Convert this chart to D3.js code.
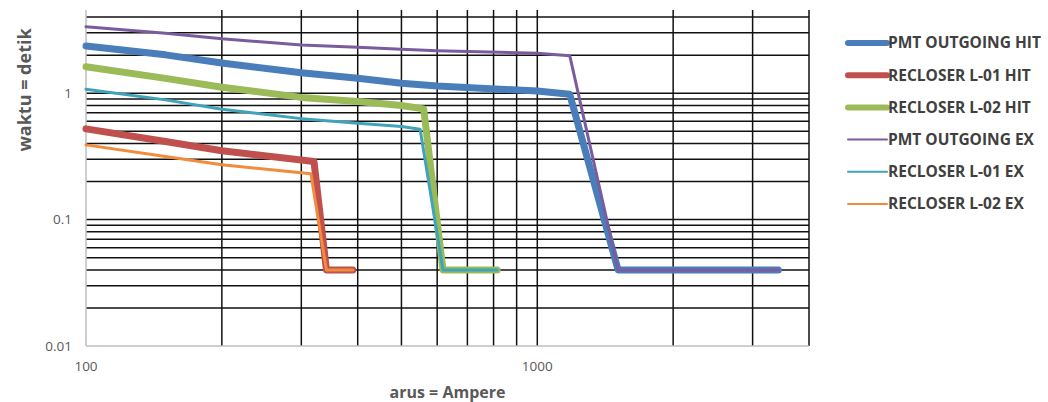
<!DOCTYPE html>
<html lang="en">
<head>
<meta charset="utf-8">
<script src="https://d3js.org/d3.v7.min.js"></script>
<style>
  body { margin: 0; background: #fff; }
  svg { display: block; font-family: "Open Sans", "Liberation Sans", sans-serif; }
</style>
</head>
<body>
<svg width="1048" height="402"></svg>
<script>
// series names (legend order = drawing order)
var seriesNames = ["PMT OUTGOING HIT", "RECLOSER L-01 HIT", "RECLOSER L-02 HIT",
                   "PMT OUTGOING EX", "RECLOSER L-01 EX", "RECLOSER L-02 EX"];

// current (A) and time (s)
var pmtHitI  = [100, 150, 200, 300, 400, 500, 600, 1000, 1180, 1510, 3420];
var pmtHitT  = [2.36, 2.01, 1.73, 1.45, 1.31, 1.20, 1.14, 1.04, 0.98, 0.04, 0.04];
var l01HitI  = [100, 150, 200, 320, 341, 390];
var l01HitT  = [0.522, 0.415, 0.35, 0.288, 0.04, 0.04];
var l02HitI  = [100, 150, 200, 300, 400, 500, 560, 618, 815];
var l02HitT  = [1.62, 1.31, 1.115, 0.926, 0.858, 0.798, 0.751, 0.04, 0.04];
var pmtExI   = [100, 150, 200, 300, 400, 500, 600, 1000, 1180, 1510, 3420];
var pmtExT   = [3.36, 2.98, 2.69, 2.41, 2.31, 2.23, 2.17, 2.07, 1.98, 0.04, 0.04];
var l01ExI   = [100, 150, 200, 300, 400, 500, 550, 618, 815];
var l01ExT   = [1.076, 0.885, 0.747, 0.629, 0.579, 0.544, 0.519, 0.04, 0.04];
var l02ExI   = [100, 150, 200, 315, 341, 390];
var l02ExT   = [0.39, 0.316, 0.271, 0.23, 0.04, 0.04];

var xTickLabels = [100, 1000];
var yTickLabels = [0.01, 0.1, 1];

var currents = [pmtHitI, l01HitI, l02HitI, pmtExI, l01ExI, l02ExI];
var times    = [pmtHitT, l01HitT, l02HitT, pmtExT, l01ExT, l02ExT];
var colors   = ["#4a7ebb", "#c0504d", "#9bbb59", "#7a5c9e", "#3fa3bb", "#f08c3c"];
var widths   = [7, 7, 7, 3, 3, 3];

var svg = d3.select("svg");
var pLeft = 86, pRight = 809, pTop = 10, pBottom = 346;

var x = d3.scaleLog().domain([100, 4000]).range([pLeft, pRight]);
var y = d3.scaleLog().domain([0.01, 4.55]).range([pBottom, pTop]);

// minor + major grid values
var xGrid = [], yGrid = [];
[100, 1000].forEach(function(d) {
  for (var k = 1; k <= 9; k++) { var v = d * k; if (v > 100 && v <= 4000) xGrid.push(v); }
});
[0.01, 0.1, 1].forEach(function(d) {
  for (var k = 1; k <= 9; k++) { var v = +(d * k).toPrecision(3); if (v > 0.01 && v <= 4.55) yGrid.push(v); }
});

svg.append("g").selectAll("line").data(yGrid).enter().append("line")
  .attr("x1", pLeft).attr("x2", pRight)
  .attr("y1", function(d) { return y(d); }).attr("y2", function(d) { return y(d); })
  .attr("stroke", "#111").attr("stroke-width", 1.5);

svg.append("g").selectAll("line").data(xGrid).enter().append("line")
  .attr("y1", pTop).attr("y2", pBottom)
  .attr("x1", function(d) { return x(d); }).attr("x2", function(d) { return x(d); })
  .attr("stroke", "#111").attr("stroke-width", 1.5);

// axis lines
svg.append("line").attr("x1", pLeft).attr("x2", pLeft).attr("y1", pTop).attr("y2", pBottom)
  .attr("stroke", "#bfbfbf").attr("stroke-width", 1.5);
svg.append("line").attr("x1", pLeft).attr("x2", pRight).attr("y1", pBottom).attr("y2", pBottom)
  .attr("stroke", "#bfbfbf").attr("stroke-width", 1.5);

// tick labels
svg.append("g").selectAll("text").data(yTickLabels).enter().append("text")
  .attr("x", 72).attr("y", function(d) { return y(d); }).attr("dy", "0.35em")
  .attr("text-anchor", "end").attr("font-size", 13.5).attr("fill", "#595959")
  .text(function(d) { return d; });

svg.append("g").selectAll("text").data(xTickLabels).enter().append("text")
  .attr("x", function(d) { return x(d); }).attr("y", 366).attr("dy", "0.35em")
  .attr("text-anchor", "middle").attr("font-size", 13.5).attr("fill", "#595959")
  .text(function(d) { return d; });

// axis titles
svg.append("text")
  .attr("transform", "translate(31,90) rotate(-90)")
  .attr("text-anchor", "middle").attr("font-size", 18).attr("font-weight", "bold")
  .attr("fill", "#595959").text("waktu = detik");

svg.append("text")
  .attr("x", (pLeft + pRight) / 2).attr("y", 392).attr("dy", "0.35em")
  .attr("text-anchor", "middle").attr("font-size", 16).attr("font-weight", "bold")
  .attr("fill", "#595959").text("arus = Ampere");

// series
var line = d3.line().x(function(d) { return x(d[0]); }).y(function(d) { return y(d[1]); });

seriesNames.forEach(function(name, i) {
  var pts = currents[i].map(function(c, j) { return [c, times[i][j]]; });
  svg.append("path").datum(pts)
    .attr("d", line)
    .attr("fill", "none")
    .attr("stroke", colors[i])
    .attr("stroke-width", widths[i])
    .attr("stroke-linejoin", "round")
    .attr("stroke-linecap", "round");
});

// legend
var legend = svg.append("g").attr("transform", "translate(848,43)");
seriesNames.forEach(function(name, i) {
  var row = legend.append("g").attr("transform", "translate(0," + (i * 32.2) + ")");
  row.append("line").attr("x1", 0).attr("x2", 39).attr("y1", 0).attr("y2", 0)
    .attr("stroke", colors[i]).attr("stroke-width", widths[i] - 1)
    .attr("stroke-linecap", "round");
  row.append("text").attr("x", 40).attr("y", 0).attr("dy", "0.35em")
    .attr("font-size", 15.5).attr("font-weight", "bold").attr("fill", "#404040")
    .text(name);
});
</script>
</body>
</html>
